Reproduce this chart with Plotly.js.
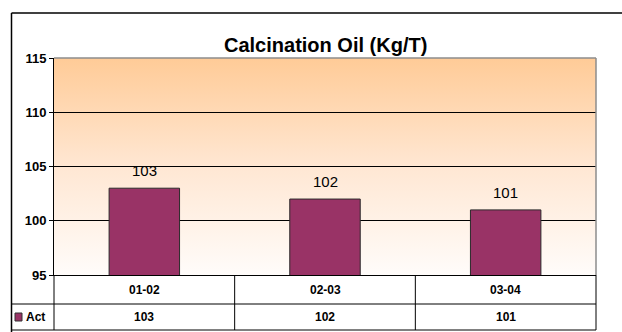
<!DOCTYPE html>
<html>
<head>
<meta charset="utf-8">
<script src="https://cdn.plot.ly/plotly-3.0.1.min.js"></script>
<style>html,body{margin:0;padding:0;background:#fff;}#chart{width:622px;height:332px;}</style>
</head>
<body>
<div id="chart"></div>
<script>
var categories = ['01-02', '02-03', '03-04'];
var seriesName = 'Act';
var actValues = [103, 102, 101];
var yTicks = [95, 100, 105, 110, 115];

var BAR = '#993366';
var FONT = 'Liberation Sans, Arial, sans-serif';

var svg = "<svg xmlns='http://www.w3.org/2000/svg' width='10' height='100' preserveAspectRatio='none'>" +
  "<defs><linearGradient id='g' x1='0' y1='0' x2='0' y2='1'>" +
  "<stop offset='0' stop-color='#FFCB97'/><stop offset='0.5' stop-color='#FFE7D3'/><stop offset='1' stop-color='#FFFCFA'/>" +
  "</linearGradient></defs><rect width='10' height='100' fill='url(#g)'/></svg>";
var bgUri = 'data:image/svg+xml;charset=utf-8,' + encodeURIComponent(svg);

// geometry in paper units (plot area 542 x 217 px)
var pxX = function (px) { return (px - 54) / 542; };
var pxY = function (py) { return (275 - py) / 217; };

var trace = {
  type: 'bar',
  x: categories,
  y: actValues,
  name: seriesName,
  width: 0.39,
  marker: { color: BAR, line: { color: '#2a2a2a', width: 1 } },
  hoverinfo: 'x+y'
};

var annotations = [];
// data labels
categories.forEach(function (c, i) {
  annotations.push({ x: c, y: actValues[i], xref: 'x', yref: 'y', text: String(actValues[i]),
    showarrow: false, yanchor: 'bottom', yshift: 7,
    font: { family: FONT, size: 15, color: '#000' } });
  // category row
  annotations.push({ x: c, y: pxY(289.5), xref: 'x', yref: 'paper', text: '<b>' + c + '</b>',
    showarrow: false, yanchor: 'middle', font: { family: FONT, size: 12, color: '#000' } });
  // Act row
  annotations.push({ x: c, y: pxY(317), xref: 'x', yref: 'paper', text: '<b>' + actValues[i] + '</b>',
    showarrow: false, yanchor: 'middle', font: { family: FONT, size: 12, color: '#000' } });
});
annotations.push({ x: pxX(24), y: pxY(317), xref: 'paper', yref: 'paper', text: '<b>' + seriesName + '</b>',
  showarrow: false, xanchor: 'left', yanchor: 'middle', font: { family: FONT, size: 12, color: '#000' } });
annotations.push({ x: 0.5, y: pxY(45), xref: 'paper', yref: 'paper', text: '<b>Calcination Oil (Kg/T)</b>',
  showarrow: false, xanchor: 'center', yanchor: 'middle', font: { family: FONT, size: 20, color: '#000' } });

var blk = { color: '#000', width: 1 };
var shapes = [
  // outer frame (top + left)
  { type: 'line', xref: 'paper', yref: 'paper', x0: pxX(11.5), x1: pxX(640), y0: pxY(13), y1: pxY(13), line: { color: '#000', width: 1.5 } },
  { type: 'line', xref: 'paper', yref: 'paper', x0: pxX(11.5), x1: pxX(11.5), y0: pxY(13), y1: pxY(340), line: { color: '#000', width: 1.5 } },
  // plot frame top/right (gray)
  { type: 'line', xref: 'paper', yref: 'paper', x0: 0, x1: 1, y0: 1, y1: 1, line: { color: '#8c8c8c', width: 1.5 } },
  { type: 'line', xref: 'paper', yref: 'paper', x0: 1, x1: 1, y0: 0, y1: 1, line: { color: '#8c8c8c', width: 1.5 } },
  // data table
  { type: 'line', xref: 'paper', yref: 'paper', x0: 1, x1: 1, y0: 0, y1: pxY(330), line: blk },
  { type: 'line', xref: 'paper', yref: 'paper', x0: 0, x1: 0, y0: 0, y1: pxY(330), line: blk },
  { type: 'line', xref: 'paper', yref: 'paper', x0: pxX(12), x1: 1, y0: pxY(304), y1: pxY(304), line: blk },
  { type: 'line', xref: 'paper', yref: 'paper', x0: pxX(12), x1: 1, y0: pxY(330), y1: pxY(330), line: blk },
  { type: 'line', xref: 'x', yref: 'paper', x0: 0.5, x1: 0.5, y0: 0, y1: pxY(330), line: blk },
  { type: 'line', xref: 'x', yref: 'paper', x0: 1.5, x1: 1.5, y0: 0, y1: pxY(330), line: blk },
  // legend key
  { type: 'rect', xref: 'paper', yref: 'paper', x0: pxX(15), x1: pxX(22), y0: pxY(313), y1: pxY(321),
    fillcolor: BAR, line: { color: '#333', width: 1 } }
];

var layout = {
  width: 622, height: 332,
  margin: { l: 54, r: 26, t: 58, b: 57, pad: 0 },
  paper_bgcolor: '#ffffff',
  plot_bgcolor: 'rgba(0,0,0,0)',
  showlegend: false,
  bargap: 0.61,
  images: [{ source: bgUri, xref: 'paper', yref: 'paper', x: 0, y: 1, sizex: 1, sizey: 1,
    sizing: 'stretch', xanchor: 'left', yanchor: 'top', layer: 'below' }],
  xaxis: {
    type: 'category', categoryarray: categories, range: [-0.5, 2.5],
    showticklabels: false, ticks: '', showgrid: false, zeroline: false,
    showline: true, linecolor: '#000', linewidth: 1, fixedrange: true
  },
  yaxis: {
    range: [95, 115], tickvals: yTicks, ticktext: yTicks.map(String),
    showgrid: true, gridcolor: '#000', gridwidth: 1, zeroline: false,
    showline: true, linecolor: '#000', linewidth: 1,
    ticks: 'outside', ticklen: 4, tickcolor: '#000', tickwidth: 1,
    tickfont: { family: FONT, size: 13, color: '#000', weight: 'bold' },
    fixedrange: true
  },
  annotations: annotations,
  shapes: shapes
};

Plotly.newPlot('chart', [trace], layout, { displayModeBar: false, staticPlot: true });
</script>
</body>
</html>
